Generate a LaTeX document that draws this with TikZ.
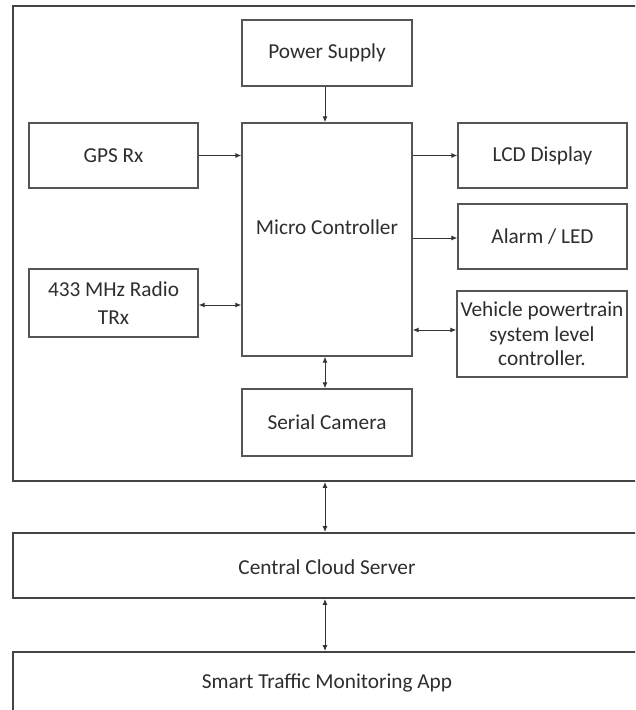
\documentclass[tikz,border=0pt]{standalone}
\usepackage{fontspec}
\setmainfont{Carlito}
\usetikzlibrary{arrows.meta}
\definecolor{linec}{HTML}{555555}
\definecolor{framec}{HTML}{444444}
\definecolor{txtc}{HTML}{2E2E2E}
\begin{document}
\begin{tikzpicture}[x=1pt,y=-1pt,
  blk/.style={draw=linec,line width=1.4pt,rectangle,inner sep=0pt,align=center,text=txtc,
    font=\fontsize{21.3}{27}\selectfont},
  bigframe/.style={draw=framec,line width=1.9pt,rectangle,inner sep=0pt,align=center,text=txtc,
    font=\fontsize{21.3}{27}\selectfont},
  lbl/.style={inner sep=0pt,align=center,text=txtc,font=\fontsize{21.3}{27}\selectfont},
  conn/.style={draw=black!80,line width=1pt,-{Latex[length=6pt,width=5pt]}},
  biconn/.style={draw=black!80,line width=1pt,{Latex[length=6pt,width=5pt]}-{Latex[length=6pt,width=5pt]}}
]
\useasboundingbox (0,0) rectangle (635,710);
\fill[white] (0,0) rectangle (635,710);
\clip (0,0) rectangle (635,710);

% outer frames
\node[bigframe,minimum width=632pt,minimum height=475pt] (frame) at (329,243.5) {};
\node[bigframe,minimum width=632pt,minimum height=65pt] (cloud) at (329,565.5) {};
\node[lbl] (cloudlbl) at (327,567) {Central Cloud Server};
\node[bigframe,minimum width=632pt,minimum height=78pt] (app) at (329,691) {};
\node[lbl] (applbl) at (327,683) {Smart Traffic Monitoring App};

% blocks
\node[blk,minimum width=170pt,minimum height=66pt] (power) at (327,53) {Power Supply};
\node[blk,minimum width=170pt,minimum height=233pt] (micro) at (327,239.5) {};
\node[lbl] (microlbl) at (327,227) {Micro Controller};
\node[blk,minimum width=169pt,minimum height=65pt] (gps) at (113.5,155.5) {GPS Rx};
\node[blk,minimum width=169pt,minimum height=68pt] (radio) at (113.5,303) {433 MHz Radio\\[1pt]TRx};
\node[blk,minimum width=169pt,minimum height=65pt] (lcd) at (542.5,155.5) {LCD Display};
\node[blk,minimum width=169pt,minimum height=65pt] (alarm) at (542.5,236.5) {Alarm / LED};
\node[blk,minimum width=170pt,minimum height=86pt,font=\fontsize{21.3}{24.5}\selectfont] (vehicle) at (542,334) {Vehicle powertrain\\system level\\controller.};
\node[blk,minimum width=170pt,minimum height=67pt] (serial) at (327,422.5) {Serial Camera};

% connectors
\coordinate (m1) at (micro.north -| 325,0);
\draw[conn] (power.south -| m1) -- (micro.north -| m1);
\draw[conn] (gps.east) -- (gps.east -| micro.west);
\draw[conn] (lcd.west -| micro.east) -- (lcd.west);
\coordinate (al) at (0,238);
\draw[conn] (micro.east |- al) -- (alarm.west |- al);
\coordinate (ra) at (0,305);
\draw[biconn] (radio.east |- ra) -- (micro.west |- ra);
\coordinate (ve) at (0,330);
\draw[biconn] (micro.east |- ve) -- (vehicle.west |- ve);
\draw[biconn] (micro.south -| m1) -- (serial.north -| m1);
\draw[biconn] (frame.south -| m1) -- (cloud.north -| m1);
\draw[biconn] (cloud.south -| m1) -- (app.north -| m1);
\end{tikzpicture}
\end{document}
